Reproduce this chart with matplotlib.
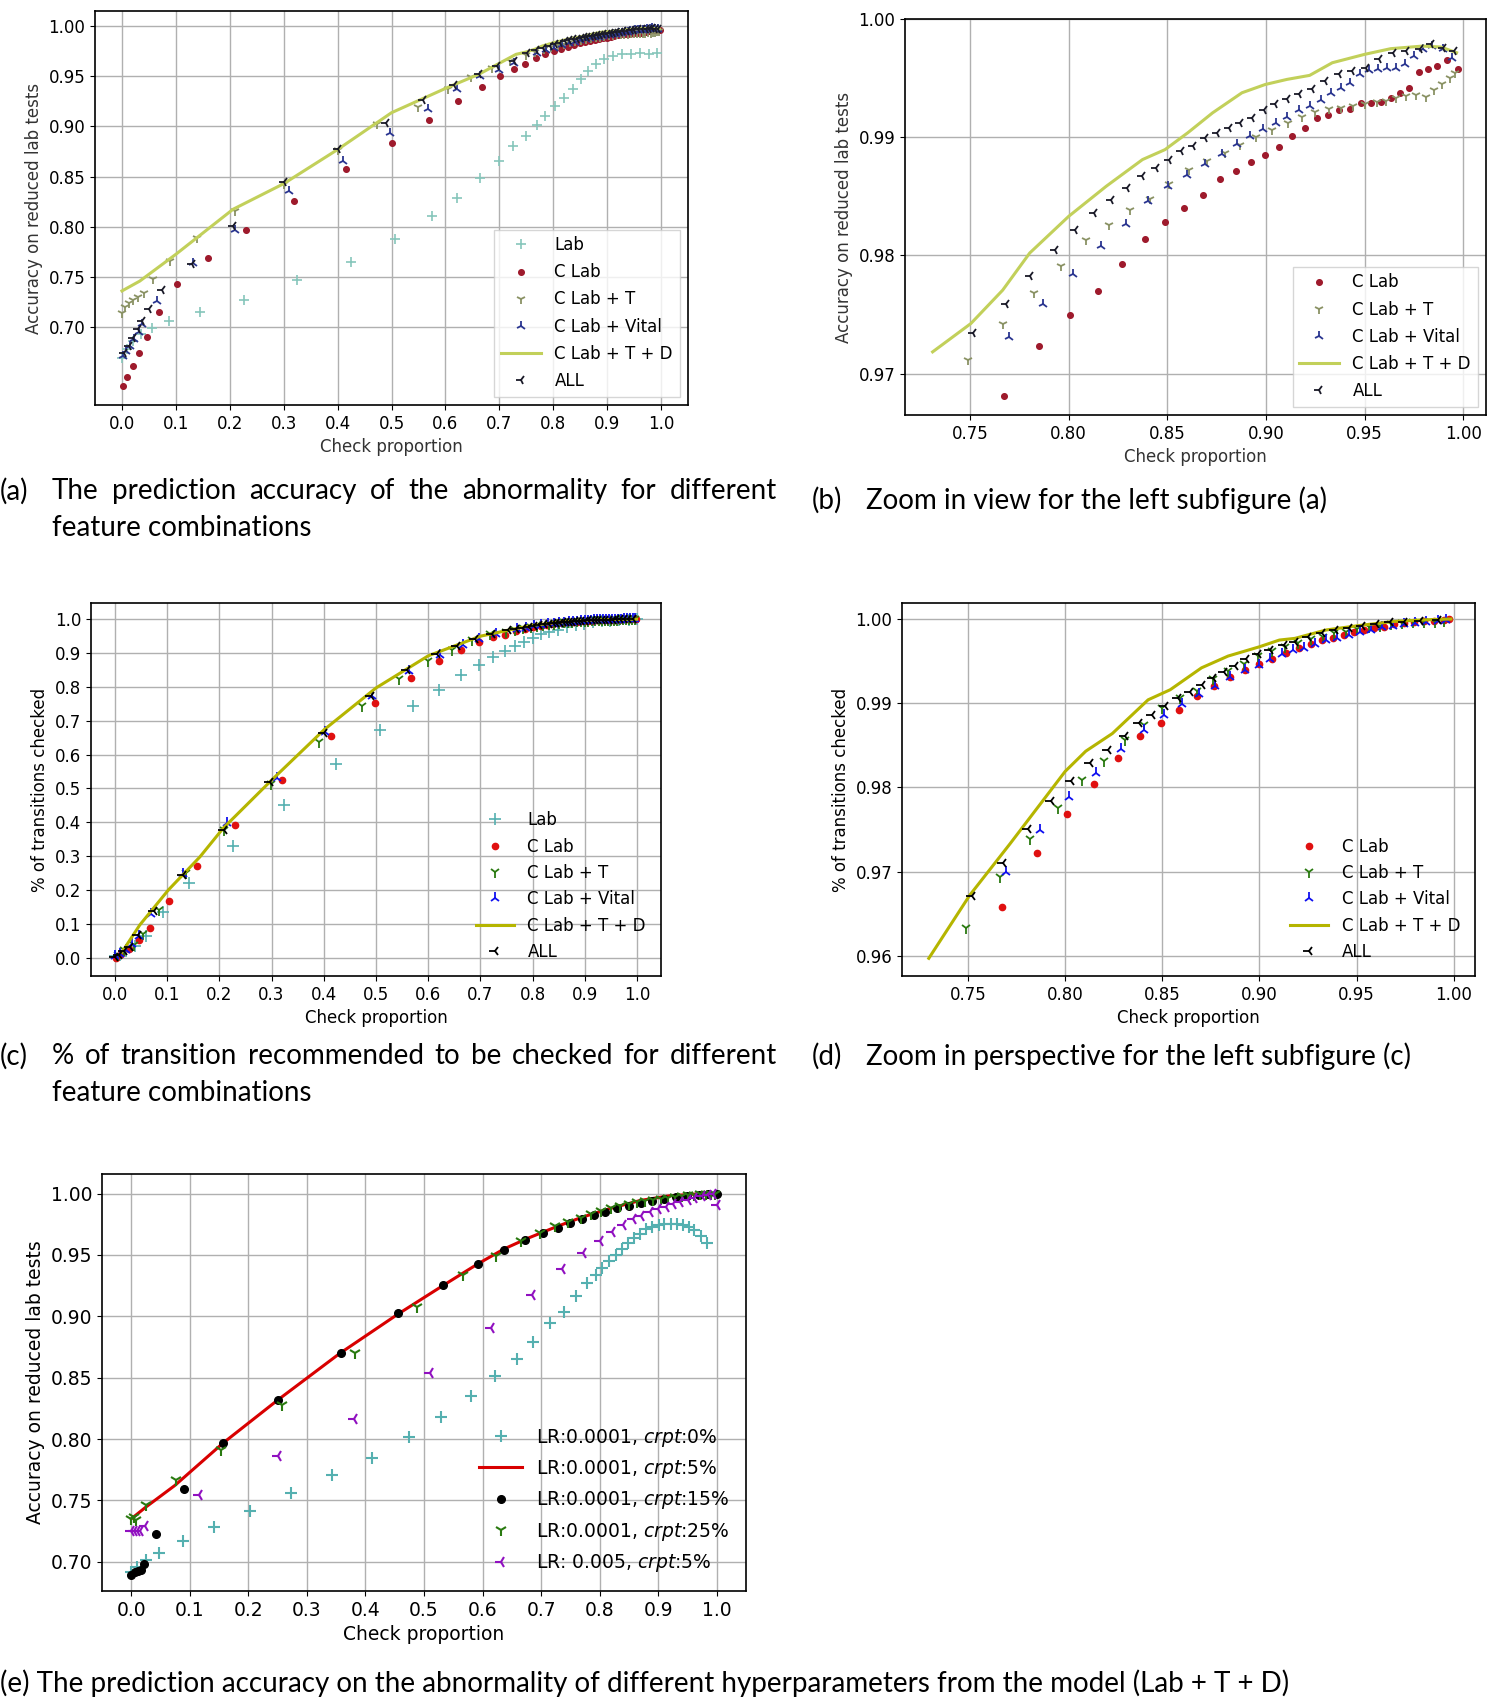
import matplotlib
matplotlib.use('Agg')
import matplotlib.pyplot as plt

W, H = 1500, 1697

# ---------------- (a)/(b): accuracy vs check proportion ----------------
a_lab_x = [0.000, 0.010, 0.020, 0.035, 0.055, 0.087, 0.1445, 0.227, 0.324, 0.4255, 0.5058,
           0.5745, 0.6217, 0.664, 0.6987, 0.726, 0.7492, 0.7698, 0.7848, 0.803, 0.8195, 0.836,
           0.851, 0.865, 0.880, 0.894, 0.9106, 0.927, 0.9437, 0.9603, 0.9768, 0.9934]
a_lab_y = [0.669, 0.678, 0.686, 0.693, 0.699, 0.7063, 0.7156, 0.727, 0.7468, 0.7654, 0.7876,
           0.8105, 0.8291, 0.849, 0.8656, 0.8805, 0.8905, 0.9012, 0.9104, 0.9204, 0.9287, 0.9376,
           0.9469, 0.9552, 0.9618, 0.9668, 0.9701, 0.9724, 0.9718, 0.9728, 0.9718, 0.9735]

a_clab_x = [0.002, 0.010, 0.020, 0.031, 0.047, 0.068, 0.103, 0.160, 0.230, 0.320, 0.416, 0.501,
            0.570, 0.623, 0.667, 0.701, 0.727, 0.747, 0.7674, 0.7848, 0.8007, 0.8147, 0.827,
            0.8385, 0.8488, 0.8586, 0.8678, 0.8767, 0.8847, 0.8923, 0.8996, 0.9065, 0.9131,
            0.9197, 0.9257, 0.9314, 0.9372, 0.9427, 0.9481, 0.9532, 0.9582, 0.9632, 0.9678,
            0.9723, 0.9774, 0.982, 0.9867, 0.9915, 0.9975]
a_clab_y = [0.6416, 0.6506, 0.6615, 0.674, 0.690, 0.7156, 0.743, 0.769, 0.797, 0.8258, 0.858,
            0.884, 0.906, 0.925, 0.939, 0.950, 0.957, 0.962, 0.9681, 0.9723, 0.9750, 0.9770,
            0.9793, 0.9814, 0.9828, 0.9840, 0.9851, 0.9865, 0.9871, 0.9879, 0.9885, 0.9892,
            0.9901, 0.9908, 0.9916, 0.9919, 0.9923, 0.9924, 0.9929, 0.9929, 0.9930, 0.9933,
            0.9937, 0.9942, 0.9955, 0.9958, 0.9960, 0.9965, 0.9958]

a_t_x = [0.000, 0.006, 0.013, 0.021, 0.030, 0.040, 0.058, 0.0886, 0.139, 0.209, 0.2997, 0.4015,
         0.474, 0.550, 0.604, 0.647, 0.687, 0.720, 0.7489, 0.7665, 0.7825, 0.7961, 0.8087,
         0.8202, 0.8309, 0.841, 0.851, 0.861, 0.870, 0.879, 0.887, 0.895, 0.903, 0.911, 0.918,
         0.925, 0.932, 0.938, 0.944, 0.950, 0.956, 0.961, 0.966, 0.971, 0.976, 0.981, 0.985,
         0.989, 0.993, 0.996]
a_t_y = [0.7146, 0.720, 0.724, 0.727, 0.730, 0.734, 0.7484, 0.766, 0.7886, 0.8158, 0.843, 0.877,
         0.9025, 0.9196, 0.937, 0.9497, 0.958, 0.9652, 0.97119, 0.97424, 0.97684, 0.97907,
         0.98127, 0.9826, 0.9838, 0.9848, 0.9860, 0.9872, 0.9880, 0.9887, 0.9893, 0.9900,
         0.9906, 0.9912, 0.9917, 0.9921, 0.9924, 0.9925, 0.9926, 0.9928, 0.9930, 0.9931,
         0.9933, 0.9935, 0.9936, 0.9934, 0.9940, 0.9945, 0.9950, 0.9954]

a_vital_x = [0.002, 0.008, 0.015, 0.023, 0.031, 0.037, 0.0646, 0.1325, 0.2095, 0.310, 0.4094,
             0.4967, 0.567, 0.621, 0.665, 0.700, 0.728, 0.7699, 0.7871, 0.802, 0.8162, 0.8288,
             0.8402, 0.8503, 0.860, 0.8689, 0.8776, 0.8851, 0.892, 0.8986, 0.905, 0.9108,
             0.9165, 0.9222, 0.928, 0.933, 0.9378, 0.9428, 0.9474, 0.952, 0.9566, 0.9611,
             0.9657, 0.9703, 0.9748, 0.9794, 0.984, 0.9897, 0.9943]
a_vital_y = [0.6715, 0.6765, 0.681, 0.688, 0.695, 0.703, 0.726, 0.7644, 0.7973, 0.8357, 0.8655,
             0.8937, 0.917, 0.937, 0.950, 0.956, 0.963, 0.97311, 0.97593, 0.97845, 0.98082,
             0.98268, 0.98458, 0.98585, 0.98684, 0.98777, 0.98862, 0.98944, 0.99008, 0.99071,
             0.99121, 0.99172, 0.99226, 0.99263, 0.99319, 0.9937, 0.99418, 0.9946, 0.99531,
             0.99568, 0.99573, 0.99588, 0.99588, 0.99616, 0.99686, 0.99743, 0.99771, 0.99743,
             0.99672]

a_tdx = [0.000, 0.033, 0.100, 0.206, 0.300, 0.400, 0.500, 0.603, 0.662, 0.731, 0.7504, 0.7665,
         0.7802, 0.800, 0.819, 0.8374, 0.8488, 0.8603, 0.8729, 0.8878, 0.8996, 0.9106, 0.9221,
         0.9336, 0.950, 0.9632, 0.9794, 0.9886, 0.9966]
a_tdy = [0.7362, 0.746, 0.7727, 0.8175, 0.843, 0.877, 0.9137, 0.9386, 0.952, 0.97184, 0.97424,
         0.97706, 0.98020, 0.98331, 0.98585, 0.98811, 0.98895, 0.99037, 0.99206, 0.99376,
         0.99446, 0.99489, 0.99523, 0.99630, 0.99701, 0.99749, 0.99771, 0.99763, 0.99715]

a_all_x = [0.004, 0.0124, 0.0207, 0.029, 0.037, 0.0497, 0.0745, 0.1308, 0.2069, 0.2997, 0.4015,
           0.490, 0.5587, 0.6167, 0.6622, 0.6953, 0.7268, 0.7516, 0.768, 0.7806, 0.7931, 0.803,
           0.8126, 0.8213, 0.8293, 0.8373, 0.8442, 0.8506, 0.857, 0.8631, 0.8693, 0.8753,
           0.8812, 0.887, 0.8927, 0.8991, 0.9048, 0.9106, 0.9167, 0.9234, 0.930, 0.9368,
           0.9437, 0.9506, 0.9574, 0.9643, 0.9712, 0.9781, 0.9838, 0.9895, 0.9952]
a_all_y = [0.6748, 0.6814, 0.6897, 0.698, 0.7063, 0.718, 0.7368, 0.7627, 0.8013, 0.8445, 0.878,
           0.9035, 0.9267, 0.9416, 0.9526, 0.9598, 0.9648, 0.97347, 0.97588, 0.97825, 0.98048,
           0.98218, 0.98359, 0.98472, 0.98571, 0.9867, 0.9874, 0.98811, 0.98881, 0.98924,
           0.98994, 0.99037, 0.99079, 0.99121, 0.99164, 0.99226, 0.99277, 0.99325, 0.99362,
           0.99404, 0.99475, 0.99531, 0.99559, 0.99588, 0.99658, 0.99715, 0.99729, 0.99743,
           0.99785, 0.99757, 0.99729]

# ---------------- (c)/(d): % of transitions checked ----------------
c_lab_x = [0.000, 0.010, 0.022, 0.039, 0.060, 0.0915, 0.143, 0.226, 0.3236, 0.4243, 0.5067,
           0.5716, 0.6198, 0.663, 0.6963, 0.7238, 0.7463, 0.7654, 0.7837, 0.8003, 0.8153, 0.832,
           0.8486, 0.8652, 0.8819, 0.8985, 0.9151, 0.9318, 0.9484, 0.965, 0.9834, 1.000]
c_lab_y = [0.004, 0.009, 0.019, 0.034, 0.063, 0.134, 0.221, 0.331, 0.452, 0.573, 0.672, 0.743,
           0.792, 0.834, 0.866, 0.888, 0.906, 0.921, 0.933, 0.945, 0.955, 0.962, 0.969, 0.976,
           0.982, 0.986, 0.991, 0.994, 0.996, 0.998, 0.999, 1.000]

c_clab_x = [0.002, 0.012, 0.027, 0.046, 0.0666, 0.103, 0.158, 0.2296, 0.3195, 0.4143, 0.4975,
            0.5674, 0.6215, 0.6622, 0.6963, 0.723, 0.747, 0.7677, 0.7853, 0.8009, 0.8149, 0.827,
            0.8387, 0.8493, 0.8587, 0.8681, 0.8766, 0.8849, 0.8927, 0.900, 0.9067, 0.9135,
            0.9202, 0.9264, 0.9321, 0.9378, 0.9436, 0.9489, 0.9539, 0.9592, 0.9642, 0.9693,
            0.9745, 0.9798, 0.9849, 0.9899, 0.9952, 0.9977]
c_clab_y = [0.000, 0.010, 0.026, 0.051, 0.0867, 0.1665, 0.272, 0.392, 0.524, 0.656, 0.754, 0.826,
            0.877, 0.908, 0.933, 0.947, 0.954, 0.9658, 0.9722, 0.9768, 0.9804, 0.9835, 0.9861,
            0.9877, 0.9892, 0.9908, 0.9920, 0.9931, 0.9939, 0.9946, 0.9953, 0.9960, 0.9965,
            0.9970, 0.9975, 0.9978, 0.9981, 0.9985, 0.9987, 0.9989, 0.9991, 0.9994, 0.9995,
            0.9996, 0.9998, 0.9998, 0.9999, 1.0000]

c_t_x = [0.006, 0.018, 0.037, 0.054, 0.085, 0.136, 0.210, 0.299, 0.391, 0.474, 0.544, 0.600,
         0.646, 0.684, 0.718, 0.7491, 0.7665, 0.7819, 0.7963, 0.8087, 0.8202, 0.8307, 0.8404,
         0.850, 0.8592, 0.8679, 0.8761, 0.8839, 0.8919, 0.8995, 0.9064, 0.9133, 0.9197, 0.9264,
         0.9326, 0.9385, 0.9445, 0.9505, 0.9562, 0.962, 0.9677, 0.9734, 0.9791, 0.9849, 0.9906,
         0.9952]
c_t_y = [0.009, 0.024, 0.038, 0.070, 0.140, 0.250, 0.378, 0.514, 0.636, 0.743, 0.822, 0.876,
         0.909, 0.940, 0.955, 0.9633, 0.9694, 0.9739, 0.9775, 0.9809, 0.9831, 0.9856, 0.9874,
         0.9894, 0.9906, 0.9915, 0.9929, 0.9938, 0.9947, 0.9956, 0.9962, 0.9967, 0.9971,
         0.9976, 0.9979, 0.9983, 0.9985, 0.9988, 0.9990, 0.9992, 0.9994, 0.9995, 0.9996,
         0.9996, 0.9997, 0.9998]

c_vital_x = [0.000, 0.010, 0.021, 0.033, 0.047, 0.070, 0.130, 0.214, 0.310, 0.403, 0.493, 0.564,
             0.622, 0.666, 0.697, 0.730, 0.7697, 0.7871, 0.8021, 0.8158, 0.8289, 0.8404, 0.8507,
             0.8601, 0.869, 0.8771, 0.8851, 0.8927, 0.900, 0.9057, 0.9115, 0.9172, 0.9229,
             0.9287, 0.9344, 0.9401, 0.9459, 0.9516, 0.9573, 0.9631, 0.9688, 0.9745, 0.9803,
             0.986, 0.9917, 0.9963]
c_vital_y = [0.004, 0.011, 0.022, 0.041, 0.065, 0.130, 0.248, 0.398, 0.531, 0.666, 0.774, 0.846,
             0.894, 0.925, 0.942, 0.956, 0.9700, 0.9749, 0.9788, 0.9817, 0.9846, 0.9868, 0.9886,
             0.9899, 0.9911, 0.9920, 0.9931, 0.9940, 0.9945, 0.9952, 0.9958, 0.9963, 0.9965,
             0.9970, 0.9975, 0.9977, 0.9981, 0.9985, 0.9987, 0.9990, 0.9992, 0.9994, 0.9995,
             0.9996, 0.9998, 0.9999]

c_tdx = [0.014, 0.048, 0.1025, 0.163, 0.2077, 0.301, 0.401, 0.500, 0.600, 0.700, 0.7298, 0.7509,
         0.7716, 0.800, 0.8106, 0.8243, 0.8427, 0.8541, 0.8702, 0.8839, 0.900, 0.9103, 0.9183,
         0.9344, 0.9505, 0.9688, 0.9849, 0.9986]
c_tdy = [0.017, 0.097, 0.200, 0.298, 0.383, 0.526, 0.674, 0.797, 0.892, 0.950, 0.9597, 0.9672,
         0.9733, 0.9819, 0.9843, 0.9864, 0.9904, 0.9916, 0.9942, 0.9956, 0.9967, 0.9975, 0.9977,
         0.9987, 0.9992, 0.9997, 0.9999, 1.0000]

c_all_x = [0.000, 0.008, 0.018, 0.029, 0.045, 0.075, 0.131, 0.210, 0.297, 0.401, 0.491, 0.559,
           0.616, 0.655, 0.690, 0.722, 0.7521, 0.7681, 0.781, 0.7927, 0.8028, 0.8128, 0.822,
           0.8307, 0.8381, 0.8445, 0.8514, 0.8583, 0.8644, 0.8702, 0.8759, 0.8817, 0.8874,
           0.8931, 0.8995, 0.9057, 0.9126, 0.9183, 0.9252, 0.9321, 0.939, 0.9459, 0.9528,
           0.9601, 0.967, 0.9745, 0.9826, 0.9922]
c_all_y = [0.002, 0.009, 0.019, 0.033, 0.068, 0.137, 0.245, 0.376, 0.518, 0.664, 0.772, 0.849,
           0.896, 0.921, 0.942, 0.955, 0.9671, 0.9710, 0.9751, 0.9784, 0.9808, 0.9829, 0.9845,
           0.9861, 0.9876, 0.9886, 0.9897, 0.9906, 0.9913, 0.9922, 0.9930, 0.9937, 0.9944,
           0.9952, 0.9958, 0.9963, 0.9969, 0.9973, 0.9979, 0.9983, 0.9987, 0.9989, 0.9992,
           0.9994, 0.9996, 0.9997, 0.9998, 0.9999]

# ---------------- (e): hyperparameters ----------------
e0_x = [0.000, 0.010, 0.0248, 0.047, 0.0886, 0.1407, 0.2028, 0.2732, 0.3435, 0.4114, 0.4743,
        0.5298, 0.5795, 0.6209, 0.6581, 0.6854, 0.7144, 0.7392, 0.7599, 0.7781, 0.793, 0.8046,
        0.8162, 0.8278, 0.8386, 0.8485, 0.8592, 0.8692, 0.8791, 0.8899, 0.9007, 0.9106, 0.9214,
        0.9313, 0.942, 0.952, 0.962, 0.9727, 0.9826]
e0_y = [0.6916, 0.6957, 0.7011, 0.7071, 0.7166, 0.7283, 0.7411, 0.756, 0.771, 0.7848, 0.8019,
        0.8182, 0.8353, 0.8514, 0.865, 0.8794, 0.8944, 0.9034, 0.9167, 0.9271, 0.9339, 0.9393,
        0.9453, 0.9503, 0.9549, 0.9598, 0.9639, 0.9674, 0.9707, 0.9729, 0.9745, 0.9753, 0.9755,
        0.9753, 0.9742, 0.9726, 0.9702, 0.9652, 0.9598]

e5_x = [0.000, 0.025, 0.0745, 0.157, 0.250, 0.356, 0.455, 0.534, 0.592, 0.637, 0.675, 0.728,
        0.770, 0.8195, 0.869, 0.9189, 0.9685, 1.000]
e5_y = [0.735, 0.7446, 0.7622, 0.7968, 0.8317, 0.8697, 0.9016, 0.9255, 0.9427, 0.9549, 0.9631,
        0.9733, 0.9807, 0.988, 0.9943, 0.9981, 0.9997, 1.000]

e15_x = [0.000, 0.006, 0.011, 0.016, 0.021, 0.043, 0.0894, 0.157, 0.250, 0.3576, 0.455, 0.5331,
         0.592, 0.6374, 0.673, 0.7036, 0.7285, 0.750, 0.770, 0.790, 0.810, 0.830, 0.850, 0.870,
         0.890, 0.910, 0.930, 0.950, 0.970, 0.985, 1.000]
e15_y = [0.6894, 0.6913, 0.6921, 0.6935, 0.6984, 0.7223, 0.7596, 0.7971, 0.8316, 0.8697, 0.9023,
         0.9255, 0.9423, 0.954, 0.9622, 0.9676, 0.9717, 0.9757, 0.979, 0.9823, 0.9853, 0.9879,
         0.9902, 0.9923, 0.9942, 0.9958, 0.9971, 0.9982, 0.9991, 0.9996, 1.000]

e25_x = [0.000, 0.004, 0.008, 0.0248, 0.0762, 0.153, 0.258, 0.3824, 0.4884, 0.567, 0.6233, 0.666,
         0.698, 0.7244, 0.7467, 0.7682, 0.7848, 0.803, 0.820, 0.835, 0.850, 0.864, 0.878, 0.891,
         0.904, 0.916, 0.928, 0.940, 0.951, 0.962, 0.972, 0.981, 0.990, 0.997]
e25_y = [0.735, 0.7364, 0.7337, 0.746, 0.7663, 0.7908, 0.8281, 0.8703, 0.9078, 0.9337, 0.9494,
         0.9614, 0.9682, 0.9736, 0.9771, 0.9804, 0.9834, 0.9861, 0.9883, 0.990, 0.9915, 0.9928,
         0.994, 0.995, 0.9959, 0.9967, 0.9974, 0.998, 0.9985, 0.9989, 0.9993, 0.9996, 0.9998,
         1.000]

elr_x = [0.000, 0.005, 0.010, 0.015, 0.0232, 0.1159, 0.250, 0.3808, 0.5108, 0.615, 0.6846, 0.735,
         0.7715, 0.8005, 0.8212, 0.8402, 0.8568, 0.8709, 0.8858, 0.8998, 0.9131, 0.9255, 0.9379,
         0.9503, 0.962, 0.9743, 0.9851, 0.9934, 1.000]
elr_y = [0.7247, 0.725, 0.7247, 0.725, 0.7291, 0.7541, 0.7859, 0.8166, 0.8535, 0.8902, 0.9174,
         0.9383, 0.9519, 0.9617, 0.969, 0.9744, 0.979, 0.982, 0.985, 0.9875, 0.9894, 0.9913,
         0.9929, 0.9948, 0.9962, 0.9976, 0.9986, 0.9995, 0.9908]

LABELS = ['Lab', 'C Lab', 'C Lab + T', 'C Lab + Vital', 'C Lab + T + D', 'ALL']
E_LABELS = [r'LR:0.0001, $\mathit{crpt}$:0%', r'LR:0.0001, $\mathit{crpt}$:5%',
            r'LR:0.0001, $\mathit{crpt}$:15%', r'LR:0.0001, $\mathit{crpt}$:25%',
            r'LR: 0.005, $\mathit{crpt}$:5%']

ZOOM_FROM = 0.729   # the zoomed panels only show the tail of each curve


def box(l, t, r, b):
    return [l / W, 1 - b / H, (r - l) / W, (b - t) / H]


def tail(xs, ys, x0):
    keep = [(x, y) for x, y in zip(xs, ys) if x >= x0]
    return [k[0] for k in keep], [k[1] for k in keep]


def style(ax, fs=12):
    ax.grid(True, color='#b0b0b0', lw=1.0)
    ax.set_axisbelow(True)
    ax.tick_params(labelsize=fs)
    for s in ax.spines.values():
        s.set_linewidth(1.2)


def feature_panel(ax, data, cols, with_lab, ms=1.0, x0=None):
    if x0 is not None:
        data = [tail(xs, ys, x0) for xs, ys in data]
    lab, clab, t, vital, td, allf = data
    if with_lab:
        ax.plot(*lab, ls='none', marker='+', color=cols[0], ms=8 * ms, mew=1.2, label=LABELS[0])
    ax.plot(*clab, ls='none', marker='o', color=cols[1], ms=4.5 * ms, label=LABELS[1])
    ax.plot(*t, ls='none', marker='1', color=cols[2], ms=8 * ms, mew=1.3, label=LABELS[2])
    ax.plot(*vital, ls='none', marker='2', color=cols[3], ms=8 * ms, mew=1.3, label=LABELS[3])
    ax.plot(*td, color=cols[4], lw=2.2, label=LABELS[4])
    ax.plot(*allf, ls='none', marker='3', color=cols[5], ms=8 * ms, mew=1.3, label=LABELS[5])


fig = plt.figure(figsize=(W / 100, H / 100), dpi=100)

a_data = [(a_lab_x, a_lab_y), (a_clab_x, a_clab_y), (a_t_x, a_t_y), (a_vital_x, a_vital_y),
          (a_tdx, a_tdy), (a_all_x, a_all_y)]
c_data = [(c_lab_x, c_lab_y), (c_clab_x, c_clab_y), (c_t_x, c_t_y), (c_vital_x, c_vital_y),
          (c_tdx, c_tdy), (c_all_x, c_all_y)]
a_cols = ['#86c6bb', '#9e1a2c', '#8a9264', '#2a3590', '#c2d05a', '#1a1a28']
c_cols = ['#55b0b0', '#e01010', '#2a7a10', '#1010f0', '#b5b500', 'black']

# (a)
ax = fig.add_axes(box(95, 11, 688, 405))
feature_panel(ax, a_data, a_cols, True, ms=0.9)
ax.set_xlim(-0.05, 1.05)
ax.set_ylim(0.6226, 1.015)
ax.set_xticks([i / 10 for i in range(11)])
ax.set_yticks([0.70, 0.75, 0.80, 0.85, 0.90, 0.95, 1.00])
ax.set_xlabel('Check proportion', fontsize=12, color='#333')
ax.set_ylabel('Accuracy on reduced lab tests', fontsize=12, color='#333')
style(ax)
ax.legend(loc='lower right', fontsize=12, handlelength=2.4, labelspacing=0.55,
          fancybox=False, edgecolor='#cccccc')

# (b)
ax = fig.add_axes(box(905, 19, 1486, 415))
feature_panel(ax, a_data, a_cols, False, ms=0.9, x0=ZOOM_FROM)
ax.set_xlim(0.717, 1.0115)
ax.set_ylim(0.9665, 1.0)
ax.set_xticks([0.75, 0.80, 0.85, 0.90, 0.95, 1.00])
ax.set_yticks([0.97, 0.98, 0.99, 1.00])
ax.set_xlabel('Check proportion', fontsize=12, color='#333')
ax.set_ylabel('Accuracy on reduced lab tests', fontsize=12, color='#333')
style(ax)
ax.legend(loc='lower right', fontsize=12, handlelength=2.4, labelspacing=0.55,
          fancybox=False, edgecolor='#cccccc')

# (c)
ax = fig.add_axes(box(91, 603, 661, 976))
feature_panel(ax, c_data, c_cols, True)
ax.set_xlim(-0.0455, 1.0455)
ax.set_ylim(-0.054, 1.048)
ax.set_xticks([i / 10 for i in range(11)])
ax.set_yticks([i / 10 for i in range(11)])
ax.set_xlabel('Check proportion', fontsize=12)
ax.set_ylabel('% of transitions checked', fontsize=12)
style(ax)
ax.legend(loc='lower right', fontsize=12, handlelength=2.3, labelspacing=0.5, frameon=False)

# (d)
ax = fig.add_axes(box(902, 603, 1475, 976))
feature_panel(ax, c_data, c_cols, False, x0=ZOOM_FROM)
ax.set_xlim(0.716, 1.011)
ax.set_ylim(0.9576, 1.0019)
ax.set_xticks([0.75, 0.80, 0.85, 0.90, 0.95, 1.00])
ax.set_yticks([0.96, 0.97, 0.98, 0.99, 1.00])
ax.set_xlabel('Check proportion', fontsize=12)
ax.set_ylabel('% of transitions checked', fontsize=12)
style(ax)
ax.legend(loc='lower right', fontsize=12, handlelength=2.3, labelspacing=0.5, frameon=False)

# (e)
ax = fig.add_axes(box(102, 1174, 746, 1591))
ax.plot(e0_x, e0_y, ls='none', marker='+', color='#55b0b0', ms=9, mew=1.5, label=E_LABELS[0])
ax.plot(e5_x, e5_y, color='#d80000', lw=2.2, label=E_LABELS[1])
ax.plot(e15_x, e15_y, ls='none', marker='o', color='black', ms=5.5, label=E_LABELS[2])
ax.plot(e25_x, e25_y, ls='none', marker='1', color='#2a7a10', ms=9, mew=1.5, label=E_LABELS[3])
ax.plot(elr_x, elr_y, ls='none', marker='3', color='#9010c0', ms=9, mew=1.5, label=E_LABELS[4])
ax.set_xlim(-0.05, 1.05)
ax.set_ylim(0.6762, 1.0159)
ax.set_xticks([i / 10 for i in range(11)])
ax.set_yticks([0.70, 0.75, 0.80, 0.85, 0.90, 0.95, 1.00])
ax.set_xlabel('Check proportion', fontsize=13.5)
ax.set_ylabel('Accuracy on reduced lab tests', fontsize=13.5)
style(ax, fs=13.5)
ax.legend(loc='lower right', fontsize=13.5, handlelength=2.3, labelspacing=0.5,
          handletextpad=0.7, frameon=False)

# ---------------- captions ----------------
CAP = dict(family=['Lato', 'DejaVu Sans'], fontsize=20, va='center')
renderer = fig.canvas.get_renderer()


def justify(text, x0, x1, y):
    words = text.split()
    ts = [fig.text(0, 1 - y / H, w, **CAP) for w in words]
    widths = [t.get_window_extent(renderer).width for t in ts]
    gap = (x1 - x0 - sum(widths)) / (len(words) - 1)
    x = x0
    for t, w in zip(ts, widths):
        t.set_x(x / W)
        x += w + gap


def caption(text, x, y):
    fig.text(x / W, 1 - y / H, text, **CAP)


caption('(a)', 0, 491)
justify('The prediction accuracy of the abnormality for different', 52, 777, 491)
caption('feature combinations', 52, 528)
caption('(b)', 812, 500)
caption('Zoom in view for the left subfigure (a)', 866, 500)
caption('(c)', 0, 1056)
justify('% of transition recommended to be checked for different', 52, 777, 1056)
caption('feature combinations', 52, 1093)
caption('(d)', 812, 1056)
caption('Zoom in perspective for the left subfigure (c)', 866, 1056)
caption('(e) The prediction accuracy on the abnormality of different hyperparameters '
        'from the model (Lab + T + D)', 0, 1683)

fig.savefig('out.png', dpi=100)
